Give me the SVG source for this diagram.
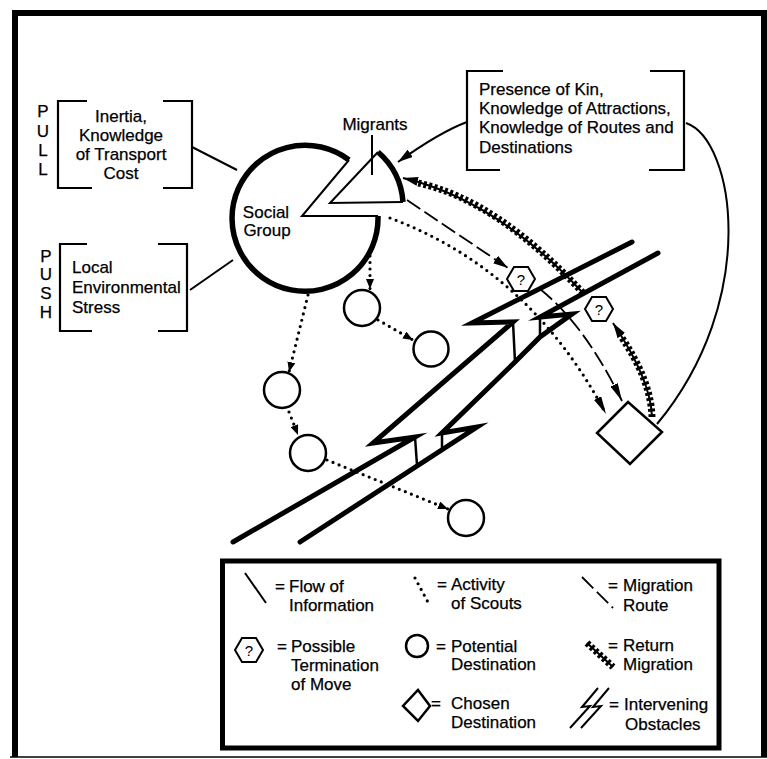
<svg xmlns="http://www.w3.org/2000/svg" width="767" height="759" viewBox="0 0 767 759">
<style>
.t{font-family:"Liberation Sans",Arial,Helvetica,sans-serif;font-size:17px;fill:#000;stroke:#000;stroke-width:0.25}
.tm{text-anchor:middle}
.q{font-size:15px;text-anchor:middle;stroke-width:0}
.ln{fill:none;stroke:#000;stroke-width:2}
.brk{fill:none;stroke:#000;stroke-width:2.2}
.dot{fill:none;stroke:#000;stroke-width:3.2;stroke-linecap:round;stroke-dasharray:0 6.5}
.dash{fill:none;stroke:#000;stroke-width:1.8;stroke-dasharray:16 5}
.star{fill:none;stroke:#000;stroke-width:7;stroke-dasharray:3 2.5}
.starc{fill:none;stroke:#000;stroke-width:2}
.band{fill:none;stroke:#000;stroke-width:5;stroke-linejoin:miter;stroke-miterlimit:12;stroke-linecap:round}
.vert{fill:none;stroke:#000;stroke-width:2.5}
.node{fill:#fff;stroke:#000;stroke-width:2.5}
.heavy{fill:none;stroke:#000;stroke-width:5.5}
.frame{fill:none;stroke:#000;stroke-width:6}
</style>
<defs>
<marker id="aS" viewBox="0 0 10 8" refX="10" refY="4" markerWidth="10" markerHeight="8" orient="auto" markerUnits="userSpaceOnUse"><path d="M0,0 L10,4 L0,8 Z"/></marker>
<marker id="aM" viewBox="0 0 15 9" refX="15" refY="4.5" markerWidth="15" markerHeight="9" orient="auto" markerUnits="userSpaceOnUse"><path d="M0,0 L15,4.5 L0,9 Z"/></marker>
<marker id="aL" viewBox="0 0 18 8" refX="18" refY="4" markerWidth="18" markerHeight="8" orient="auto" markerUnits="userSpaceOnUse"><path d="M0,0 L18,4 L0,8 Z"/></marker>
<path id="hex" d="M-14,0 L-7,-12 L7,-12 L14,0 L7,12 L-7,12 Z" fill="#fff" stroke="#000" stroke-width="2"/>
</defs>

<rect width="767" height="759" fill="#fff"/>
<path class="frame" d="M15,757 L15,13 L764,13 L764,757"/>
<line x1="10" y1="757" x2="767" y2="757" stroke="#000" stroke-width="1.5"/>

<g id="obstacle">
<path class="band" d="M233,542 L415,437 L373,443 L513,322 L472,323 L632,242"/>
<path class="band" d="M300,542 L477,427 L442,433 L515,362 L540,337 L572,314 L540,317 L658,253"/>
<path class="vert" d="M415,437 L417,465 M442,433 L442,449 M513,322 L515,362 M540,317 L540,337"/>
</g>

<g id="connectors">
<line class="ln" x1="192" y1="147" x2="237" y2="170"/>
<line class="ln" x1="190" y1="290" x2="233" y2="260"/>
<line class="ln" x1="372" y1="135" x2="372" y2="175"/>
<path class="ln" d="M467,122 Q440,132 398,162" marker-end="url(#aM)"/>
<path class="ln" d="M686,123 C735,140 760,300 657,424"/>
<path class="dot" d="M370,256 L370,289" marker-end="url(#aS)"/>
<path class="dot" d="M378,320 L413,340" marker-end="url(#aS)"/>
<path class="dot" d="M308,295 L289,372" marker-end="url(#aS)"/>
<path class="dot" d="M289,412 L298,435" marker-end="url(#aS)"/>
<path class="dot" d="M327,460 L448,509" marker-end="url(#aS)"/>
<path class="dot" d="M390,218 Q530,270 606,414" marker-end="url(#aL)"/>
<path class="dash" d="M407,200 L508,268" marker-end="url(#aM)"/>
<path class="dash" d="M540,289 Q585,325 622,401" marker-end="url(#aL)"/>
<path class="star" d="M652,417 Q651,380 620,335"/>
<path class="starc" d="M652,417 Q651,380 613,323" marker-end="url(#aM)"/>
<path class="star" d="M583,293 Q497,200 418,183"/>
<path class="starc" d="M583,293 Q497,200 403,178" marker-end="url(#aM)"/>
</g>

<g id="pull">
<text class="t tm" x="43" y="117" font-size="16">P</text>
<text class="t tm" x="43" y="137" font-size="16">U</text>
<text class="t tm" x="43" y="156" font-size="16">L</text>
<text class="t tm" x="43" y="175" font-size="16">L</text>
<path class="brk" d="M87,101 L58,101 L58,188 L92,188 M163,101 L192,101 L192,188 L163,188"/>
<text class="t tm" x="121" y="122">Inertia,</text>
<text class="t tm" x="121" y="141">Knowledge</text>
<text class="t tm" x="121" y="160">of Transport</text>
<text class="t tm" x="121" y="179">Cost</text>
</g>

<g id="push">
<text class="t tm" x="46" y="262" font-size="16">P</text>
<text class="t tm" x="46" y="280" font-size="16">U</text>
<text class="t tm" x="46" y="299" font-size="16">S</text>
<text class="t tm" x="46" y="318" font-size="16">H</text>
<path class="brk" d="M87,244 L60,244 L60,331 L92,331 M158,244 L187,244 L187,331 L158,331"/>
<text class="t" x="72" y="273">Local</text>
<text class="t" x="72" y="293">Environmental</text>
<text class="t" x="72" y="313">Stress</text>
</g>

<g id="presence">
<path class="brk" d="M503,71 L467,71 L467,170 L500,170 M650,71 L684,71 L684,170 L649,170"/>
<text class="t" x="479" y="95">Presence of Kin,</text>
<text class="t" x="479" y="114">Knowledge of Attractions,</text>
<text class="t" x="479" y="133">Knowledge of Routes and</text>
<text class="t" x="479" y="153">Destinations</text>
</g>

<g id="social-group">
<path class="heavy" d="M349,160 A73,73 0 1 0 378,216"/>
<path class="ln" stroke-width="2.5" d="M349,160 L302,216 L378,216"/>
<text class="t tm" x="266" y="218">Social</text>
<text class="t tm" x="267" y="236">Group</text>
</g>

<g id="migrants">
<path class="ln" stroke-width="2.5" d="M378,152 L330,203 L403,202"/>
<path class="heavy" d="M378,152 A73,73 0 0 1 403,202"/>
<text class="t tm" x="375" y="130" font-size="16">Migrants</text>
</g>

<g id="dest1"><circle class="node" cx="362" cy="308" r="18"/></g>
<g id="dest2"><circle class="node" cx="431" cy="349" r="17.5"/></g>
<g id="dest3"><circle class="node" cx="282" cy="390" r="18"/></g>
<g id="dest4"><circle class="node" cx="308" cy="453" r="18"/></g>
<g id="dest5"><circle class="node" cx="466" cy="518" r="18"/></g>

<g id="term1"><use href="#hex" x="521" y="279"/><text class="t q" x="521" y="284.5">?</text></g>
<g id="term2"><use href="#hex" x="599" y="309"/><text class="t q" x="599" y="314.5">?</text></g>

<g id="chosen">
<path class="node" d="M628,402 L662,432 L630,464 L597,433 Z"/>
</g>

<g id="legend">
<rect x="222.5" y="561" width="496.5" height="187" fill="none" stroke="#000" stroke-width="5"/>
<line class="ln" x1="245" y1="573" x2="266" y2="603"/>
<text class="t" x="275" y="592">=</text>
<text class="t" x="289" y="592">Flow of</text>
<text class="t" x="289" y="611">Information</text>

<path class="dot" stroke-width="3" d="M415,578 L430,606"/>
<text class="t" x="437" y="590">=</text>
<text class="t" x="451" y="590">Activity</text>
<text class="t" x="451" y="609">of Scouts</text>

<path class="dash" d="M582,577 L613,608" stroke-dasharray="30 4"/>
<text class="t" x="608" y="591">=</text>
<text class="t" x="623" y="591">Migration</text>
<text class="t" x="623" y="611">Route</text>

<use href="#hex" x="249" y="650"/>
<text class="t q" x="249" y="655.5">?</text>
<text class="t" x="277" y="652">=</text>
<text class="t" x="291" y="652">Possible</text>
<text class="t" x="291" y="671">Termination</text>
<text class="t" x="291" y="690">of Move</text>

<circle class="node" cx="417" cy="646" r="11"/>
<text class="t" x="436" y="652">=</text>
<text class="t" x="451" y="652">Potential</text>
<text class="t" x="451" y="670">Destination</text>

<path class="star" stroke-width="6" stroke-dasharray="3 3" d="M587,643 L613,667"/>
<path class="starc" d="M587,643 L613,667"/>
<text class="t" x="608" y="651">=</text>
<text class="t" x="623" y="651">Return</text>
<text class="t" x="623" y="670">Migration</text>

<path class="node" stroke-width="2" d="M418,690 L430,706 L418,721 L403,706 Z"/>
<text class="t" x="431" y="709">=</text>
<text class="t" x="451" y="709">Chosen</text>
<text class="t" x="451" y="728">Destination</text>

<path class="ln" d="M570,728 L590,706 L582,707 L598,688 M581,728 L601,706 L593,707 L609,688"/>
<text class="t" x="609" y="710">=</text>
<text class="t" x="624" y="710">Intervening</text>
<text class="t" x="625" y="730">Obstacles</text>
</g>
</svg>
